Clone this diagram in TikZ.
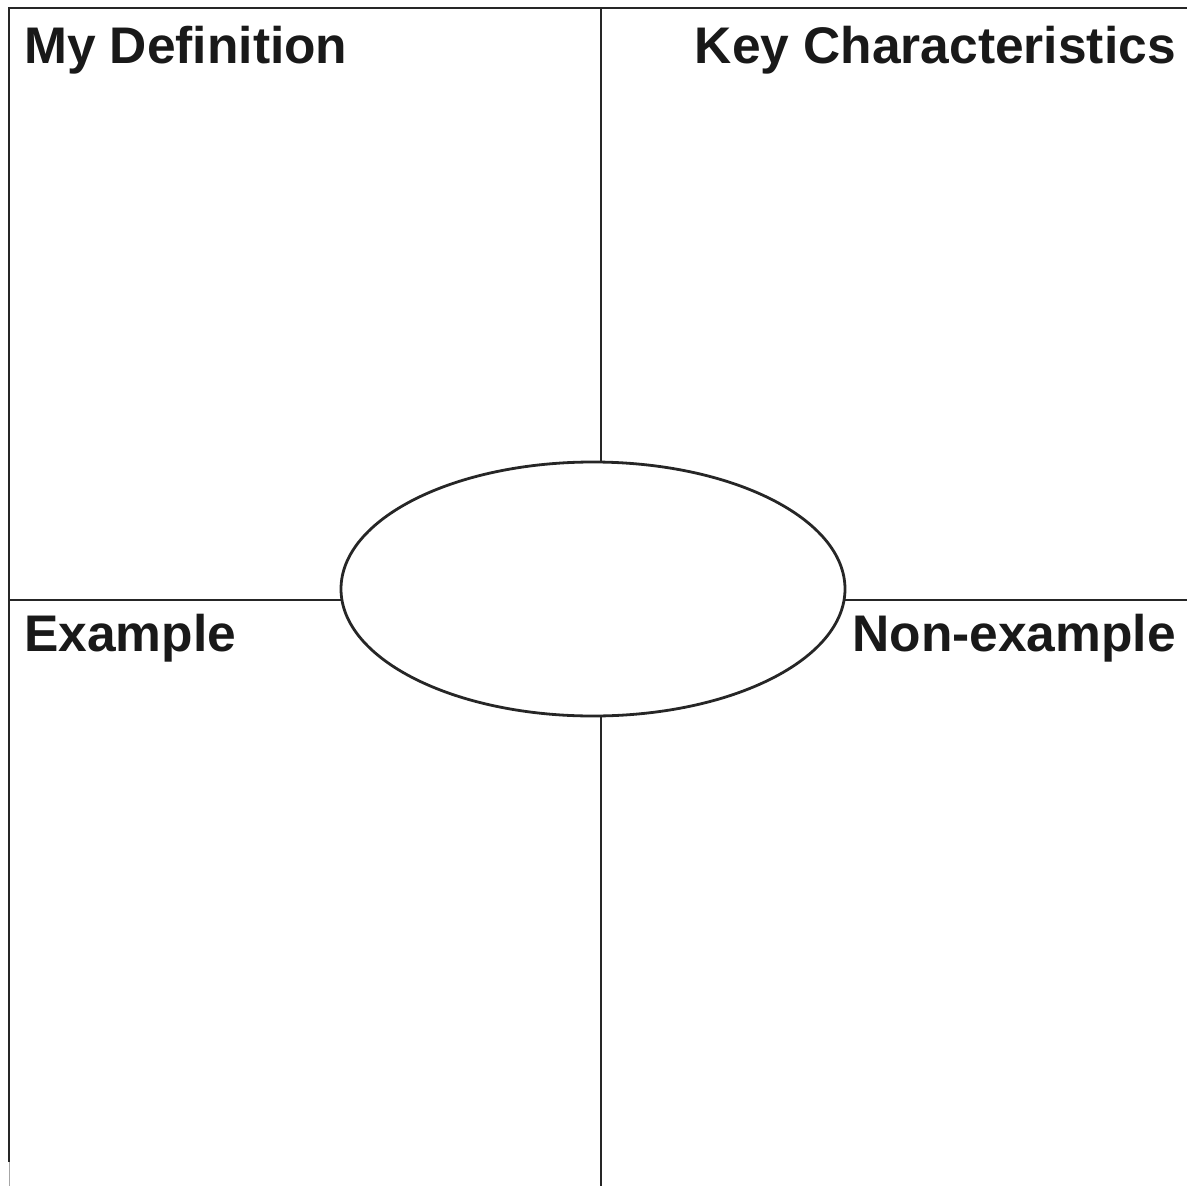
\documentclass[tikz,border=0pt]{standalone}
\usepackage{fontspec}
\setmainfont{Liberation Sans}
\usepackage{tikz}
\usetikzlibrary{positioning, calc, shapes.geometric}

\begin{document}
\begin{tikzpicture}[x=1pt, y=-1pt,
					GridLine/.style={line width=2.8pt, black!85},
					HeadText/.style={inner sep=0pt, font=\fontsize{51.5}{60}\selectfont\bfseries, text=black!90},
					CenterOval/.style={ellipse, draw, line width=2.8pt, black!85, minimum width=504pt, minimum height=254pt, inner sep=0pt}]

				\useasboundingbox (0,0) rectangle (1187,1186);

				\coordinate (TopLeft) at (9,8);
				\coordinate (TopRight) at (1187,8);
				\coordinate (BotLeft) at (9,1162);
				\coordinate (TopMid) at (601,8);
				\coordinate (BotMid) at (601,1186);
				\coordinate (MidLeft) at (9,600);
				\coordinate (MidRight) at (1187,600);

				\node[CenterOval] (Oval) at (593,589) {};

				\draw[GridLine] (BotLeft) -- (TopLeft) -- (TopRight);
				\draw[line width=1pt, black!35] (BotLeft) -- ($(BotLeft) + (0,24)$);
				\draw[GridLine] (TopMid) -- (Oval.north -| TopMid);
				\draw[GridLine] (Oval.south -| BotMid) -- (BotMid);
				\draw[GridLine] (MidLeft) -- ($(Oval.west |- MidLeft) + (1,0)$);
				\draw[GridLine] ($(Oval.east |- MidRight) - (1,0)$) -- (MidRight);

				\node[HeadText, anchor=base west] (Def) at (24,63) {My Definition};
				\node[HeadText, anchor=base east] (Key) at (1176,63) {Key Characteristics};
				\node[HeadText, anchor=base west] (Ex) at (24,651) {Example};
				\node[HeadText, anchor=base east] (NonEx) at (1176,651) {Non-example};
			\end{tikzpicture}
\end{document}
